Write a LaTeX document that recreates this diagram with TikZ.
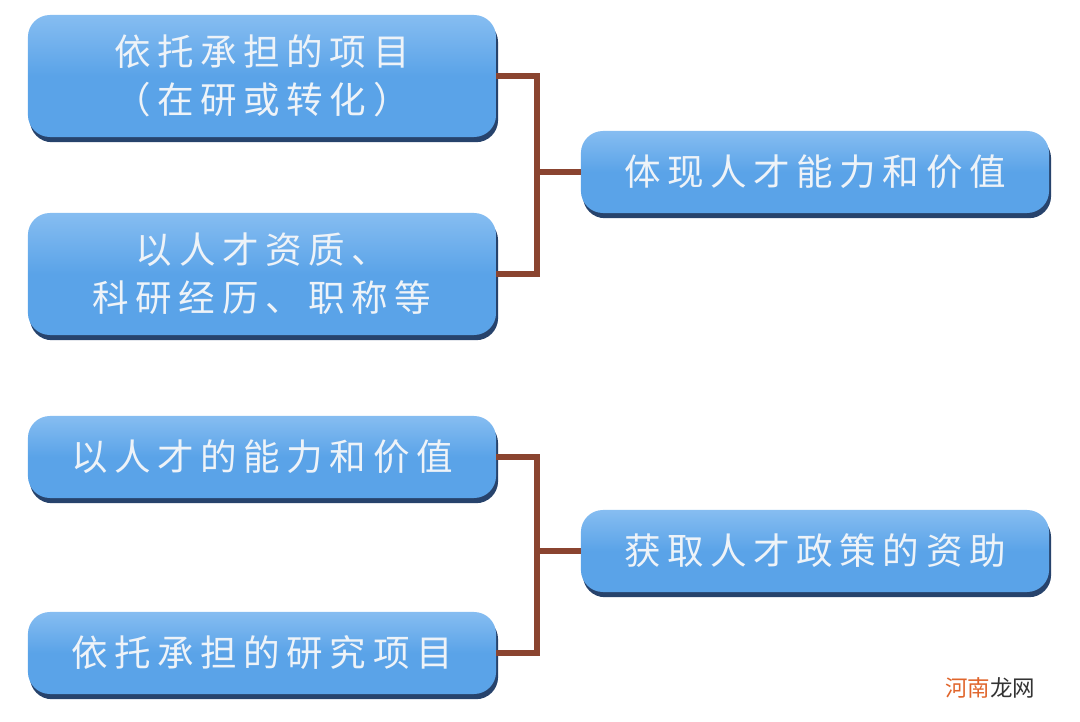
\documentclass[tikz,border=0pt]{standalone}
\usepackage{fontspec}
\newfontfamily\cjk[LetterSpace=18]{Noto Sans CJK SC}
\newfontfamily\cjkmark{Noto Sans CJK SC}
\usetikzlibrary{shadows}
\definecolor{boxtop}{HTML}{86BDF1}
\definecolor{boxbot}{HTML}{5AA3E8}
\definecolor{boxedge}{HTML}{27436C}
\definecolor{linkbrown}{HTML}{8A4430}
\definecolor{txtwhite}{HTML}{EEF3F8}
\definecolor{markorange}{HTML}{E0652B}
\tikzset{
  bluebox/.style={rounded corners=0.55cm, top color=boxtop, bottom color=boxbot, middle color=boxbot,
    general shadow={fill=boxedge, shadow yshift=-1.3mm, shadow xshift=0.5mm},
    text=txtwhite, align=center, minimum width=11.7cm, minimum height=2.05cm, inner sep=0pt,
    font=\cjk\fontsize{26pt}{34pt}\selectfont},
  link/.style={linkbrown, line width=4.3pt}
}
\begin{document}
\begin{tikzpicture}[x=0.025cm, y=-0.025cm]
        \useasboundingbox (0,0) rectangle (1080,722);
        %
        \node[bluebox, minimum height=3.05cm] (proj) at (262,76) {依托承担的项目\\（在研或转化）};
        \node[bluebox, minimum height=3.05cm] (qual) at (262,274) {以人才资质、\\科研经历、职称等};
        \node[bluebox] (value) at (815,172) {体现人才能力和价值};
        %
        \node[bluebox] (ability) at (262,457) {以人才的能力和价值};
        \node[bluebox] (research) at (262,653) {依托承担的研究项目};
        \node[bluebox] (fund) at (815,551) {获取人才政策的资助};
        %
        \coordinate (jtop) at (537,172);
        \draw[link] (proj.east) -| (jtop) |- (qual.east);
        \draw[link] (jtop) -- (value.west);
        %
        \coordinate (jbot) at (537,551);
        \draw[link] (ability.east) -| (jbot) |- (research.east);
        \draw[link] (jbot) -- (fund.west);
        %
        \node[font=\cjkmark\fontsize{16pt}{16pt}\selectfont] (mark) at (990,688) {\textcolor{markorange}{河南}\textcolor{black!80}{龙网}};
\end{tikzpicture}
\end{document}
